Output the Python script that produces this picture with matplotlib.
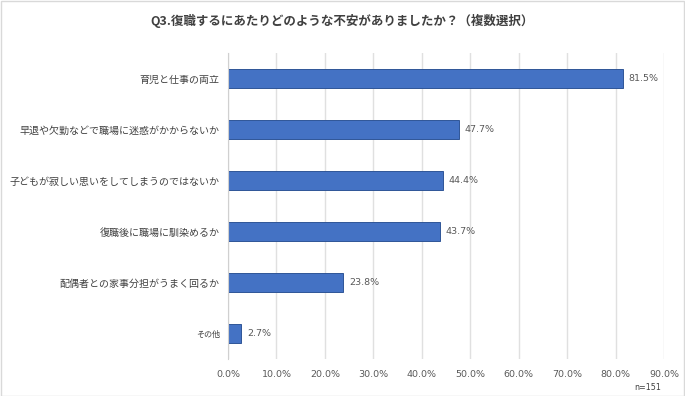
import matplotlib
matplotlib.use("Agg")
import matplotlib.pyplot as plt
from matplotlib.patches import Rectangle

plt.rcParams['font.family'] = ['Noto Sans CJK JP', 'DejaVu Sans']

categories = [
    "育児と仕事の両立",
    "早退や欠勤などで職場に迷惑がかからないか",
    "子どもが寂しい思いをしてしまうのではないか",
    "復職後に職場に馴染めるか",
    "配偶者との家事分担がうまく回るか",
    "その他",
]
values = [81.5, 47.7, 44.4, 43.7, 23.8, 2.7]
xticks = [0, 10, 20, 30, 40, 50, 60, 70, 80, 90]
title = "Q3.復職するにあたりどのような不安がありましたか？（複数選択）"

num_font = ['DejaVu Sans']

fig = plt.figure(figsize=(6.85, 3.96), dpi=100)
fig.patches.append(Rectangle((0.001, 0.001), 0.998, 0.997, transform=fig.transFigure,
                             fill=False, edgecolor="#d9d9d9", linewidth=1))
ax = fig.add_axes([228 / 685, 1 - 359 / 396, (664 - 228) / 685, (359 - 53) / 396])

y = list(range(len(categories)))
ax.barh(y, values, height=0.36, color="#4472C4", edgecolor="#2F5597", linewidth=0.7, zorder=3)
ax.set_ylim(len(categories) - 0.5, -0.5)
ax.set_xlim(0, 90)
ax.set_xticks(xticks)
ax.set_xticklabels([f"{t:.1f}%" for t in xticks], fontsize=6.8, color="#595959",
                   family=num_font)
ax.tick_params(axis="x", length=0, pad=8)
ax.set_yticks(y)
ax.set_yticklabels(categories, fontsize=7.2, color="#404040")
ax.get_yticklabels()[-1].set_fontsize(5.8)
ax.tick_params(axis="y", length=0, pad=6)
ax.grid(axis="x", color="#e0e0e0", linewidth=1, zorder=0)
for s in ["top", "right", "bottom"]:
    ax.spines[s].set_visible(False)
ax.spines["left"].set_color("#d0d0d0")
ax.spines["left"].set_zorder(4)

for yi, v in zip(y, values):
    ax.text(v + 1.2, yi, f"{v}%", va="center", ha="left", fontsize=6.8,
            color="#595959", family=num_font)

fig.text(0.5, 1 - 21 / 396, title, ha="center", va="center", fontsize=9,
         fontweight="bold", color="#404040")
fig.text(648 / 685, 1 - 387 / 396, "n=151", ha="center", va="center", fontsize=5.8,
         color="#404040", family=num_font)

fig.savefig("out.png", dpi=100)
